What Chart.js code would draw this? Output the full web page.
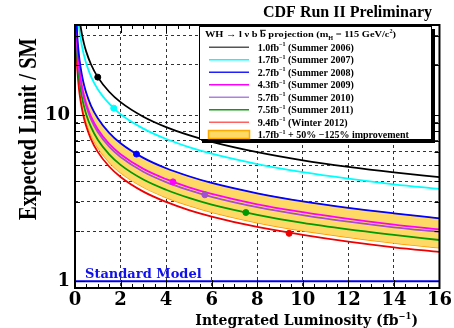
<!DOCTYPE html>
<html>
<head>
<meta charset="utf-8">
<script src="https://cdn.jsdelivr.net/npm/chart.js@4.4.0/dist/chart.umd.min.js"></script>
<style>
  html, body { margin: 0; padding: 0; background: #fff; }
  #wrap { width: 454px; height: 328px; }
</style>
</head>
<body>
<div id="wrap"><canvas id="limitChart" width="454" height="328"></canvas></div>
<script>
const lumi = [0.02, 0.03, 0.05, 0.1, 0.15, 0.2, 0.3, 0.4, 0.5, 0.7, 1, 1.5, 2, 3, 4, 5, 6, 8, 10, 12, 14, 16];

// expected limit / SM, one array per analysis
const limit2006 = [119.5, 97.6, 75.6, 53.4, 43.6, 37.8, 30.9, 26.7, 23.9, 20.2, 16.9, 13.8, 11.95, 9.76, 8.45, 7.56, 6.90, 5.98, 5.34, 4.88, 4.52, 4.23];
const limit2007 = [101.4, 82.8, 64.1, 45.3, 37.0, 32.1, 26.2, 22.7, 20.3, 17.1, 14.3, 11.7, 10.1, 8.28, 7.17, 6.41, 5.85, 5.07, 4.53, 4.14, 3.83, 3.59];
const limit2008 = [67.6, 55.2, 42.8, 30.2, 24.7, 21.4, 17.5, 15.1, 13.5, 11.4, 9.56, 7.81, 6.76, 5.52, 4.78, 4.28, 3.90, 3.38, 3.02, 2.76, 2.56, 2.39];
const limit2009 = [58.1, 47.4, 36.7, 26.0, 21.2, 18.4, 15.0, 13.0, 11.6, 9.81, 8.21, 6.70, 5.81, 4.74, 4.11, 3.67, 3.35, 2.90, 2.60, 2.37, 2.19, 2.05];
const limit2010 = [55.9, 45.6, 35.3, 25.0, 20.4, 17.7, 14.4, 12.5, 11.2, 9.44, 7.90, 6.45, 5.59, 4.56, 3.95, 3.53, 3.22, 2.79, 2.50, 2.28, 2.11, 1.98];
const limit2011 = [50.1, 40.9, 31.7, 22.4, 18.3, 15.9, 12.9, 11.2, 10.0, 8.47, 7.09, 5.79, 5.01, 4.09, 3.55, 3.17, 2.89, 2.51, 2.24, 2.05, 1.90, 1.77];
const limit2012 = [42.4, 34.6, 26.8, 19.0, 15.5, 13.4, 11.0, 9.49, 8.49, 7.17, 6.00, 4.90, 4.24, 3.46, 3.00, 2.68, 2.45, 2.12, 1.90, 1.73, 1.60, 1.50];

// 1.7 fb^-1 + 50% .. 125% improvement band
const bandHigh = [67.6, 55.2, 42.8, 30.2, 24.7, 21.4, 17.5, 15.1, 13.5, 11.4, 9.56, 7.81, 6.76, 5.52, 4.78, 4.28, 3.90, 3.38, 3.02, 2.76, 2.56, 2.39];
const bandLow = [45.0, 36.8, 28.5, 20.1, 16.4, 14.2, 11.6, 10.1, 9.01, 7.61, 6.37, 5.20, 4.50, 3.68, 3.19, 2.85, 2.60, 2.25, 2.01, 1.84, 1.70, 1.59];

// actual luminosity of each analysis and its expected limit (the dots)
const markerLumi = [1.0, 1.7, 2.7, 4.3, 5.7, 7.5, 9.4];
const markerLimit = [16.9, 11.0, 5.82, 3.96, 3.31, 2.59, 1.94];

// standard model line
const smLumi = [0, 16];
const smLimit = [1, 1];

// legend text
const legendLumi = ['1.0', '1.7', '2.7', '4.3', '5.7', '7.5', '9.4'];
const legendSeason = ['Summer 2006', 'Summer 2007', 'Summer 2008', 'Summer 2009', 'Summer 2010', 'Summer 2011', 'Winter 2012'];

// y axis: grid values and the ones that get a label
const yGrid = [1, 2, 3, 4, 5, 6, 7, 8, 9, 10, 20, 30];
const yLabels = [1, 10];

const curveColors = ['#000000', '#00ffff', '#0000ff', '#ff00ff', '#a050d0', '#009900', '#ee0000'];
const legendColors = ['#555555', '#00ffff', '#2020ff', '#ff00ff', '#b080e0', '#119911', '#ff6060'];
const serif = '"Liberation Serif", "Times New Roman", serif';
const wide = '"DejaVu Serif", serif';

const pts = (xs, ys) => xs.map((x, i) => ({ x: x, y: ys[i] }));

const curves = [limit2006, limit2007, limit2008, limit2009, limit2010, limit2011, limit2012];

const datasets = [];
datasets.push({
    data: pts(markerLumi, markerLimit),
    showLine: false,
    pointRadius: 3,
    pointBackgroundColor: curveColors,
    pointBorderColor: curveColors,
    order: 0
});
curves.forEach((c, i) => {
    datasets.push({
        data: pts(lumi, c),
        borderColor: curveColors[i],
        borderWidth: 1.8,
        pointRadius: 0,
        cubicInterpolationMode: 'monotone',
        fill: false,
        order: 1
    });
});
datasets.push({
    data: pts(smLumi, smLimit),
    borderColor: '#0000ee',
    borderWidth: 2,
    pointRadius: 0,
    fill: false,
    order: 1
});
datasets.push({
    data: pts(lumi, bandHigh),
    borderColor: '#ffaa00',
    borderWidth: 1,
    backgroundColor: '#ffd966',
    pointRadius: 0,
    cubicInterpolationMode: 'monotone',
    fill: '+1',
    order: 2
});
datasets.push({
    data: pts(lumi, bandLow),
    borderColor: '#ff9900',
    borderWidth: 1.5,
    pointRadius: 0,
    cubicInterpolationMode: 'monotone',
    fill: false,
    order: 2
});

// text with sub/superscripts: parts = [text, sizeFactor, shift, overline]
function richText(ctx, parts, x, y, o) {
    const fontOf = f => 'bold ' + (o.size * f) + 'px ' + o.family;
    let w = 0;
    parts.forEach(p => { ctx.font = fontOf(p[1] || 1); w += ctx.measureText(p[0]).width; });
    const sx = o.width ? o.width / w : 1;
    ctx.save();
    ctx.translate(x, y);
    if (o.rotate) ctx.rotate(o.rotate);
    const start = o.align === 'right' ? -w * sx : o.align === 'center' ? -w * sx / 2 : 0;
    ctx.translate(start, 0);
    ctx.scale(sx, 1);
    ctx.fillStyle = o.color || '#000';
    ctx.textBaseline = 'alphabetic';
    ctx.textAlign = 'left';
    let cx = 0;
    parts.forEach(p => {
        ctx.font = fontOf(p[1] || 1);
        const dy = (p[2] || 0) * o.size;
        ctx.fillText(p[0], cx, dy);
        const pw = ctx.measureText(p[0]).width;
        if (p[3]) ctx.fillRect(cx, dy - o.size * 0.8, pw, 1);
        cx += pw;
    });
    ctx.restore();
}

const decor = {
    id: 'decor',
    afterDraw(chart) {
        const ctx = chart.ctx;
        const a = chart.chartArea;
        const x = chart.scales.x, y = chart.scales.y;
        ctx.save();

        // frame
        ctx.strokeStyle = '#000';
        ctx.lineWidth = 2;
        ctx.strokeRect(a.left, a.top, a.right - a.left, a.bottom - a.top);

        // ROOT style inner ticks
        ctx.lineWidth = 1;
        ctx.beginPath();
        for (let v = 0; v <= 16; v += 0.5) {
            const px = Math.round(x.getPixelForValue(v)) + 0.5;
            const len = v % 2 === 0 ? 8 : 4;
            ctx.moveTo(px, a.bottom); ctx.lineTo(px, a.bottom - len);
            ctx.moveTo(px, a.top); ctx.lineTo(px, a.top + len);
        }
        yGrid.forEach(v => {
            const py = Math.round(y.getPixelForValue(v)) + 0.5;
            const len = yLabels.includes(v) ? 10 : 5;
            ctx.moveTo(a.left, py); ctx.lineTo(a.left + len, py);
            ctx.moveTo(a.right, py); ctx.lineTo(a.right - len, py);
        });
        ctx.stroke();

        // titles
        richText(ctx, [['CDF Run II Preliminary']], 263, 17, { size: 16, family: serif });
        richText(ctx, [['Expected Limit / SM']], 36, 129, { size: 25, family: serif, rotate: -Math.PI / 2, align: 'center', width: 182 });
        richText(ctx, [['Integrated Luminosity (fb'], ['\u22121', 0.6, -0.45], [')']], 418, 325, { size: 14, family: wide, align: 'right' });
        richText(ctx, [['Standard Model']], 85, 278, { size: 13, family: wide, color: '#1010ee' });

        // legend box with shadow
        const lx = 199, ly = 26, lw = 233, lh = 114;
        ctx.fillStyle = '#000';
        ctx.fillRect(lx + 3, ly + 3, lw, lh);
        ctx.fillStyle = '#fff';
        ctx.fillRect(lx, ly, lw, lh);
        ctx.strokeStyle = '#000';
        ctx.lineWidth = 1;
        ctx.strokeRect(lx + 0.5, ly + 0.5, lw - 1, lh - 1);

        richText(ctx, [['WH \u2192 l \u03bd b '], ['b', 1, 0, true], [' projection (m'], ['H', 0.6, 0.3], [' = 115 GeV/c'], ['2', 0.6, -0.4], [')']],
            205, 37, { size: 9, family: serif, width: 191 });

        legendLumi.forEach((l, i) => {
            const ey = 47.3 + i * 12.5;
            ctx.strokeStyle = legendColors[i];
            ctx.lineWidth = 1.5;
            ctx.beginPath();
            ctx.moveTo(209, ey); ctx.lineTo(249, ey);
            ctx.stroke();
            richText(ctx, [[l + 'fb'], ['\u22121', 0.6, -0.45], [' (' + legendSeason[i] + ')']], 257.7, ey + 3.5, { size: 10, family: serif });
        });
        ctx.fillStyle = '#ffd966';
        ctx.fillRect(208, 130, 42, 9);
        ctx.strokeStyle = '#ffaa00';
        ctx.strokeRect(208.5, 130.5, 41, 8);
        richText(ctx, [['1.7fb'], ['\u22121', 0.6, -0.45], [' + 50% \u2212125% improvement']], 257.7, 138.3, { size: 10, family: serif });

        ctx.restore();
    }
};

const limitChart = new Chart(document.getElementById('limitChart'), {
    type: 'line',
    data: { datasets: datasets },
    options: {
        responsive: false,
        animation: false,
        layout: { padding: { left: 0, top: 25, right: 14, bottom: 0 } },
        plugins: {
            legend: { display: false },
            tooltip: { enabled: false },
            filler: { propagate: false }
        },
        scales: {
            x: {
                type: 'linear',
                min: 0,
                max: 16,
                ticks: {
                    stepSize: 2,
                    maxRotation: 0,
                    autoSkip: false,
                    padding: 2,
                    color: '#000',
                    font: { family: wide, weight: 'bold', size: 18 }
                },
                grid: {
                    drawTicks: false,
                    lineWidth: 1,
                    color: c => (c.tick && (c.tick.value === 0 || c.tick.value === 16)) ? 'rgba(0,0,0,0)' : '#333'
                },
                border: { display: false, dash: [3, 3] },
                afterFit: s => { s.height = 40; }
            },
            y: {
                type: 'logarithmic',
                min: 0.91,
                max: 34.8,
                afterBuildTicks: s => { s.ticks = yGrid.map(v => ({ value: v })); },
                ticks: {
                    autoSkip: false,
                    padding: 5,
                    color: '#000',
                    font: { family: wide, weight: 'bold', size: 18 },
                    callback: v => yLabels.includes(v) ? String(v) : ''
                },
                grid: { drawTicks: false, lineWidth: 1, color: '#333' },
                border: { display: false, dash: [3, 3] },
                afterFit: s => { s.width = 75; }
            }
        }
    },
    plugins: [decor]
});
</script>
</body>
</html>
